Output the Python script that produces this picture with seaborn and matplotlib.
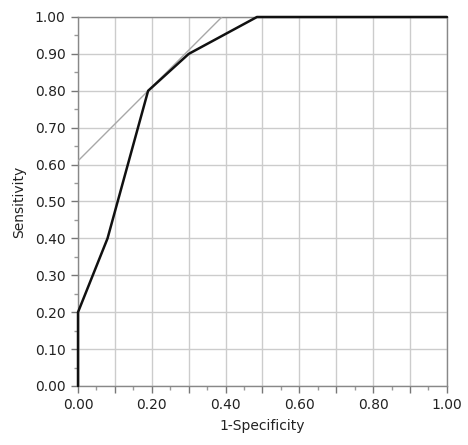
import numpy as np
import pandas as pd
import matplotlib
matplotlib.use("Agg")
import matplotlib.pyplot as plt
import seaborn as sns

# ROC curve points (1-specificity, sensitivity)
fpr = [0.0, 0.0, 0.08, 0.19, 0.30, 0.485, 1.0]
tpr = [0.0, 0.20, 0.40, 0.80, 0.90, 1.00, 1.00]

# grey tangent line
tan_x = [0.0, 0.39]
tan_y = [0.61, 1.00]

x_ticks = [0.0, 0.1, 0.2, 0.3, 0.4, 0.5, 0.6, 0.7, 0.8, 0.9, 1.0]
y_ticks = [0.0, 0.1, 0.2, 0.3, 0.4, 0.5, 0.6, 0.7, 0.8, 0.9, 1.0]

sns.set_style("white")
plt.rcParams["font.family"] = ["DejaVu Sans"]

fig = plt.figure(figsize=(4.68, 4.45), dpi=100)
ax = fig.add_axes([0.1667, 0.1326, 0.7883, 0.8292])

roc = pd.DataFrame({"fpr": fpr, "tpr": tpr})
tan = pd.DataFrame({"x": tan_x, "y": tan_y})

sns.lineplot(data=tan, x="x", y="y", color="#a8a8a8", linewidth=1.0,
             sort=False, estimator=None, ax=ax, zorder=3)
sns.lineplot(data=roc, x="fpr", y="tpr", color="#111111", linewidth=1.8,
             sort=False, estimator=None, ax=ax, clip_on=False, zorder=4)

ax.set_xlim(0, 1)
ax.set_ylim(0, 1)
ax.set_xticks(x_ticks)
ax.set_xticklabels([f"{v:.2f}" if i % 2 == 0 else "" for i, v in enumerate(x_ticks)])
ax.set_yticks(y_ticks)
ax.set_yticklabels([f"{v:.2f}" for v in y_ticks])
ax.set_xticks(np.arange(0.05, 1.0, 0.1), minor=True)
ax.set_yticks(np.arange(0.05, 1.0, 0.1), minor=True)

ax.grid(True, which="major", color="#cccccc", linewidth=1.0)
ax.set_axisbelow(True)
ax.tick_params(which="major", direction="out", length=5, width=1,
               color="#777777", labelsize=10, labelcolor="#222222", pad=4,
               bottom=True, left=True)
ax.tick_params(which="minor", direction="out", length=3, width=1,
               color="#999999", bottom=True, left=True)

for side in ["top", "right", "left", "bottom"]:
    ax.spines[side].set_color("#888888")
    ax.spines[side].set_linewidth(1.0)

ax.set_xlabel("1-Specificity", fontsize=10, color="#222222", labelpad=5)
ax.set_ylabel("Sensitivity", fontsize=10, color="#222222", labelpad=6)

fig.savefig("out.png", dpi=100)
plt.close(fig)
